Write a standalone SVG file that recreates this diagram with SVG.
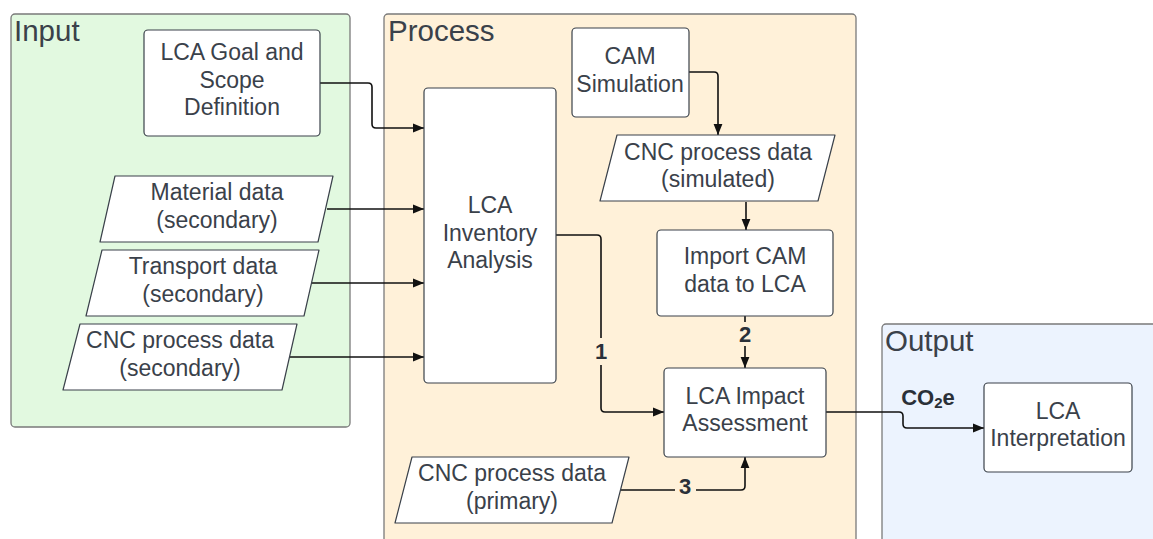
<svg xmlns="http://www.w3.org/2000/svg" width="1153" height="539" viewBox="0 0 1153 539">
<style>
.cont{stroke:#7a7a7a;stroke-width:1.3}
.title{font-family:"Liberation Sans",Arial,sans-serif;font-size:29.5px;fill:#3a414a}
.node{fill:#fff;stroke:#3a414a;stroke-width:1.2;stroke-linejoin:round}
.t{font-family:"Liberation Sans",Arial,sans-serif;font-size:23px;fill:#3a414a;text-anchor:middle}
.c{fill:none;stroke:#111;stroke-width:1.6;stroke-linejoin:round}
.lb{font-family:"Liberation Sans",Arial,sans-serif;font-size:22px;font-weight:bold;fill:#2a3038;text-anchor:middle}
</style>
<defs>
<marker id="ah" viewBox="0 0 10 10" refX="10" refY="5" markerWidth="11" markerHeight="11" markerUnits="userSpaceOnUse" orient="auto">
<path d="M0,1 L10,5 L0,9 Z" fill="#111"/>
</marker>
</defs>
<rect width="1153" height="539" fill="#fff"/>
<g id="input-container">
<rect class="cont" x="11" y="14" width="339" height="413" rx="4" fill="#e2f9e0"/>
<text class="title" x="14" y="41">Input</text>
</g>
<g id="process-container">
<rect class="cont" x="384" y="14" width="472" height="540" rx="4" fill="#fff1d9"/>
<text class="title" x="388" y="41">Process</text>
</g>
<g id="output-container">
<rect class="cont" x="882" y="324" width="290" height="230" rx="4" fill="#ecf3fe"/>
<text class="title" x="885" y="351">Output</text>
</g>
<g id="connectors">
<path class="c" d="M320,83 H368 Q372,83 372,87 V124 Q372,128 376,128 H424" marker-end="url(#ah)"/>
<path class="c" d="M327,209 H424" marker-end="url(#ah)"/>
<path class="c" d="M312,283 H424" marker-end="url(#ah)"/>
<path class="c" d="M290,357 H424" marker-end="url(#ah)"/>
<path class="c" d="M689,72 H714 Q718,72 718,76 V135" marker-end="url(#ah)"/>
<path class="c" d="M746,202 V230" marker-end="url(#ah)"/>
<path class="c" d="M745,316 V322 M745,346 V368" marker-end="url(#ah)"/>
<path class="c" d="M556,235 H597 Q601,235 601,239 V338 M601,365 V408 Q601,412 605,412 H664" marker-end="url(#ah)"/>
<path class="c" d="M620,490 H675 M696,490 H741 Q745,490 745,486 V457" marker-end="url(#ah)"/>
<path class="c" d="M826,412 H899 Q903,412 903,416 V424 Q903,428 907,428 H984" marker-end="url(#ah)"/>
<text class="lb" x="601" y="359">1</text>
<text class="lb" x="745" y="342">2</text>
<text class="lb" x="685" y="494">3</text>
<text class="lb" x="928" y="405">CO<tspan font-size="15" dy="3">2</tspan><tspan dy="-3">e</tspan></text>
</g>
<g id="goal-scope">
<rect class="node" x="144" y="30" width="176" height="106" rx="4"/>
<text class="t" x="232" y="60">LCA Goal and</text>
<text class="t" x="232" y="87.5">Scope</text>
<text class="t" x="232" y="115">Definition</text>
</g>
<g id="material-data">
<polygon class="node" points="115,176 333,176 318,242 100,242"/>
<text class="t" x="217" y="200">Material data</text>
<text class="t" x="217" y="227.5">(secondary)</text>
</g>
<g id="transport-data">
<polygon class="node" points="102,250 319,250 304,316 86,316"/>
<text class="t" x="203" y="274">Transport data</text>
<text class="t" x="203" y="301.5">(secondary)</text>
</g>
<g id="cnc-secondary">
<polygon class="node" points="80,324 297,324 282,390 63,390"/>
<text class="t" x="180" y="348">CNC process data</text>
<text class="t" x="180" y="375.5">(secondary)</text>
</g>
<g id="inventory">
<rect class="node" x="424" y="88" width="132" height="295" rx="4"/>
<text class="t" x="490" y="213">LCA</text>
<text class="t" x="490" y="240.5">Inventory</text>
<text class="t" x="490" y="268">Analysis</text>
</g>
<g id="cam-sim">
<rect class="node" x="572" y="28" width="117" height="89" rx="4"/>
<text class="t" x="630" y="64">CAM</text>
<text class="t" x="630" y="91.5">Simulation</text>
</g>
<g id="cnc-simulated">
<polygon class="node" points="617,135 835,135 818,201 600,201"/>
<text class="t" x="718" y="159.5">CNC process data</text>
<text class="t" x="718" y="187">(simulated)</text>
</g>
<g id="import-cam">
<rect class="node" x="657" y="230" width="176" height="86" rx="4"/>
<text class="t" x="745" y="264">Import CAM</text>
<text class="t" x="745" y="291.5">data to LCA</text>
</g>
<g id="impact">
<rect class="node" x="664" y="368" width="162" height="89" rx="4"/>
<text class="t" x="745" y="403.5">LCA Impact</text>
<text class="t" x="745" y="431">Assessment</text>
</g>
<g id="cnc-primary">
<polygon class="node" points="412,457 629,457 612,523 395,523"/>
<text class="t" x="512" y="481">CNC process data</text>
<text class="t" x="512" y="508.5">(primary)</text>
</g>
<g id="interpretation">
<rect class="node" x="984" y="383" width="148" height="89" rx="4"/>
<text class="t" x="1058" y="418.5">LCA</text>
<text class="t" x="1058" y="446">Interpretation</text>
</g>
</svg>
